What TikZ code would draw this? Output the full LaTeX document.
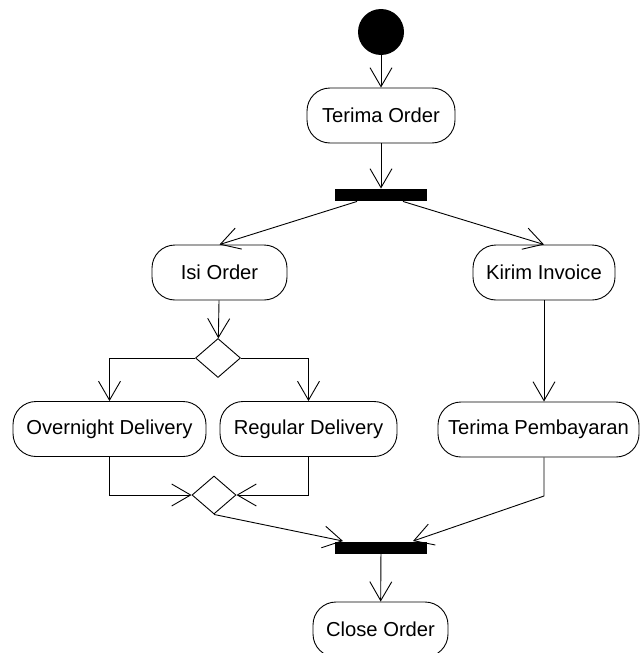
\documentclass[tikz,border=0pt]{standalone}
\usepackage{fontspec}
\setmainfont{Liberation Sans}
\usetikzlibrary{arrows.meta,shapes.geometric}
\begin{document}
\begin{tikzpicture}[x=1pt,y=-1pt,line width=0.9pt,
		act/.style={draw,rounded corners=23pt,fill=white,minimum height=55pt,inner sep=0pt,font=\fontsize{20.2}{22}\selectfont},
		bar/.style={fill=black,minimum width=92pt,minimum height=12pt,inner sep=0pt},
		choice/.style={draw,diamond,fill=white,minimum width=45pt,minimum height=39pt,inner sep=0pt},
		flow/.style={-{Straight Barb[length=19pt,width=22pt,line width=0.9pt]}}]
		\useasboundingbox (0,0) rectangle (640,653);
		\node[circle,fill=black,minimum size=46pt,inner sep=0pt] (start) at (381,32) {};
		\node[act,minimum width=148pt] (terima) at (381,115.5) {Terima Order};
		\node[bar] (fork) at (381,195) {};
		\node[act,minimum width=135pt] (isi) at (219.5,272.5) {Isi Order};
		\node[act,minimum width=142pt] (kirim) at (544,272.5) {Kirim Invoice};
		\node[choice] (pilih) at (218,358) {};
		\node[act,minimum width=193pt] (malam) at (109.5,429) {Overnight Delivery};
		\node[act,minimum width=177pt] (reguler) at (308.5,429) {Regular Delivery};
		\node[act,minimum width=201pt] (bayar) at (538.5,429.5) {Terima Pembayaran};
		\node[choice,minimum width=44pt,minimum height=38pt] (gabung) at (214,495) {};
		\node[bar] (join) at (381,547.5) {};
		\node[act,minimum width=135pt] (tutup) at (380.5,629.5) {Close Order};
		\coordinate (belok) at (544,496);
		% alur utama
		\draw[flow] (start) -- (terima);
		\draw[flow] (terima) -- (fork);
		\draw[flow] ([xshift=-24pt]fork.south) -- (isi.north);
		\draw[flow] ([xshift=22pt]fork.south) -- (kirim.north);
		\draw[flow] (isi) -- (pilih);
		\draw[flow] (pilih.west) -| (malam.north);
		\draw[flow] (pilih.east) -| (reguler.north);
		\draw[flow] (malam.south) |- (gabung.west);
		\draw[flow] (reguler.south) |- (gabung.east);
		\draw[flow] (kirim.south) -- (kirim.south |- bayar.north);
		\draw[flow] (gabung.south) -- ([xshift=-38pt]join.north);
		\draw[flow] (kirim.south |- bayar.south) -- (belok) -- ([xshift=32pt]join.north);
		\draw[flow] (join) -- (tutup);
	\end{tikzpicture}
\end{document}
